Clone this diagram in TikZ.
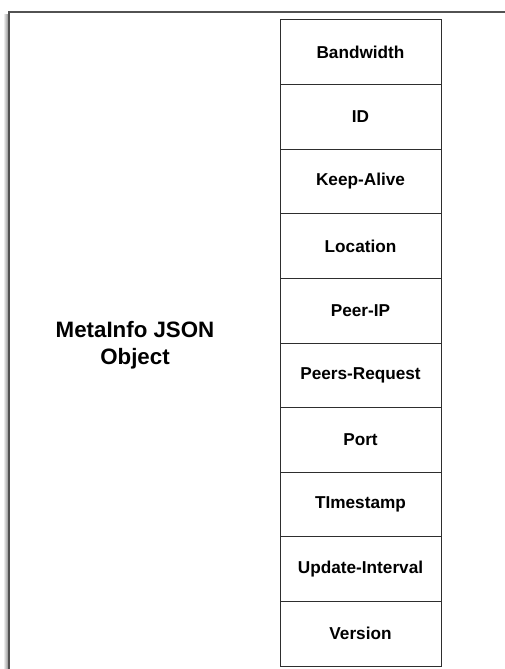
\documentclass[tikz,border=0pt]{standalone}
\usepackage{fontspec}
\setmainfont{Liberation Sans}
\usepackage{tikz}

\tikzset{
  field/.style={draw=black!82, line width=1pt, minimum width=161pt, minimum height=64.6pt,
                inner sep=0pt, font=\fontsize{17.2}{20}\selectfont\bfseries},
  title/.style={align=center, font=\fontsize{22.3}{27}\selectfont\bfseries},
  frame/.style={draw=black!68, line width=1.6pt}
}

\begin{document}
\begin{tikzpicture}
    \useasboundingbox (0,0) rectangle (505pt,-669pt);
    % outer sheet with its shadow on the left
    \shade[left color=white, right color=black!45] (3pt,-15pt) rectangle (8.4pt,-669pt);
    \draw[frame] (9pt,-669pt) |- (505pt,-12pt);
    \def\fields{Bandwidth,ID,Keep-Alive,Location,Peer-IP,Peers-Request,Port,TImestamp,Update-Interval,Version}
    %           1         2  3          4        5       6             7    8         9               10
    \foreach \f [count=\i from 1] in \fields {\node[field] (f\i) at (360.5pt,{-20pt-64.6pt*(\i-0.5)}) {\f};}
    \node[title] (meta) at (135pt,-345pt) {MetaInfo JSON\\Object};
  \end{tikzpicture}
\end{document}
